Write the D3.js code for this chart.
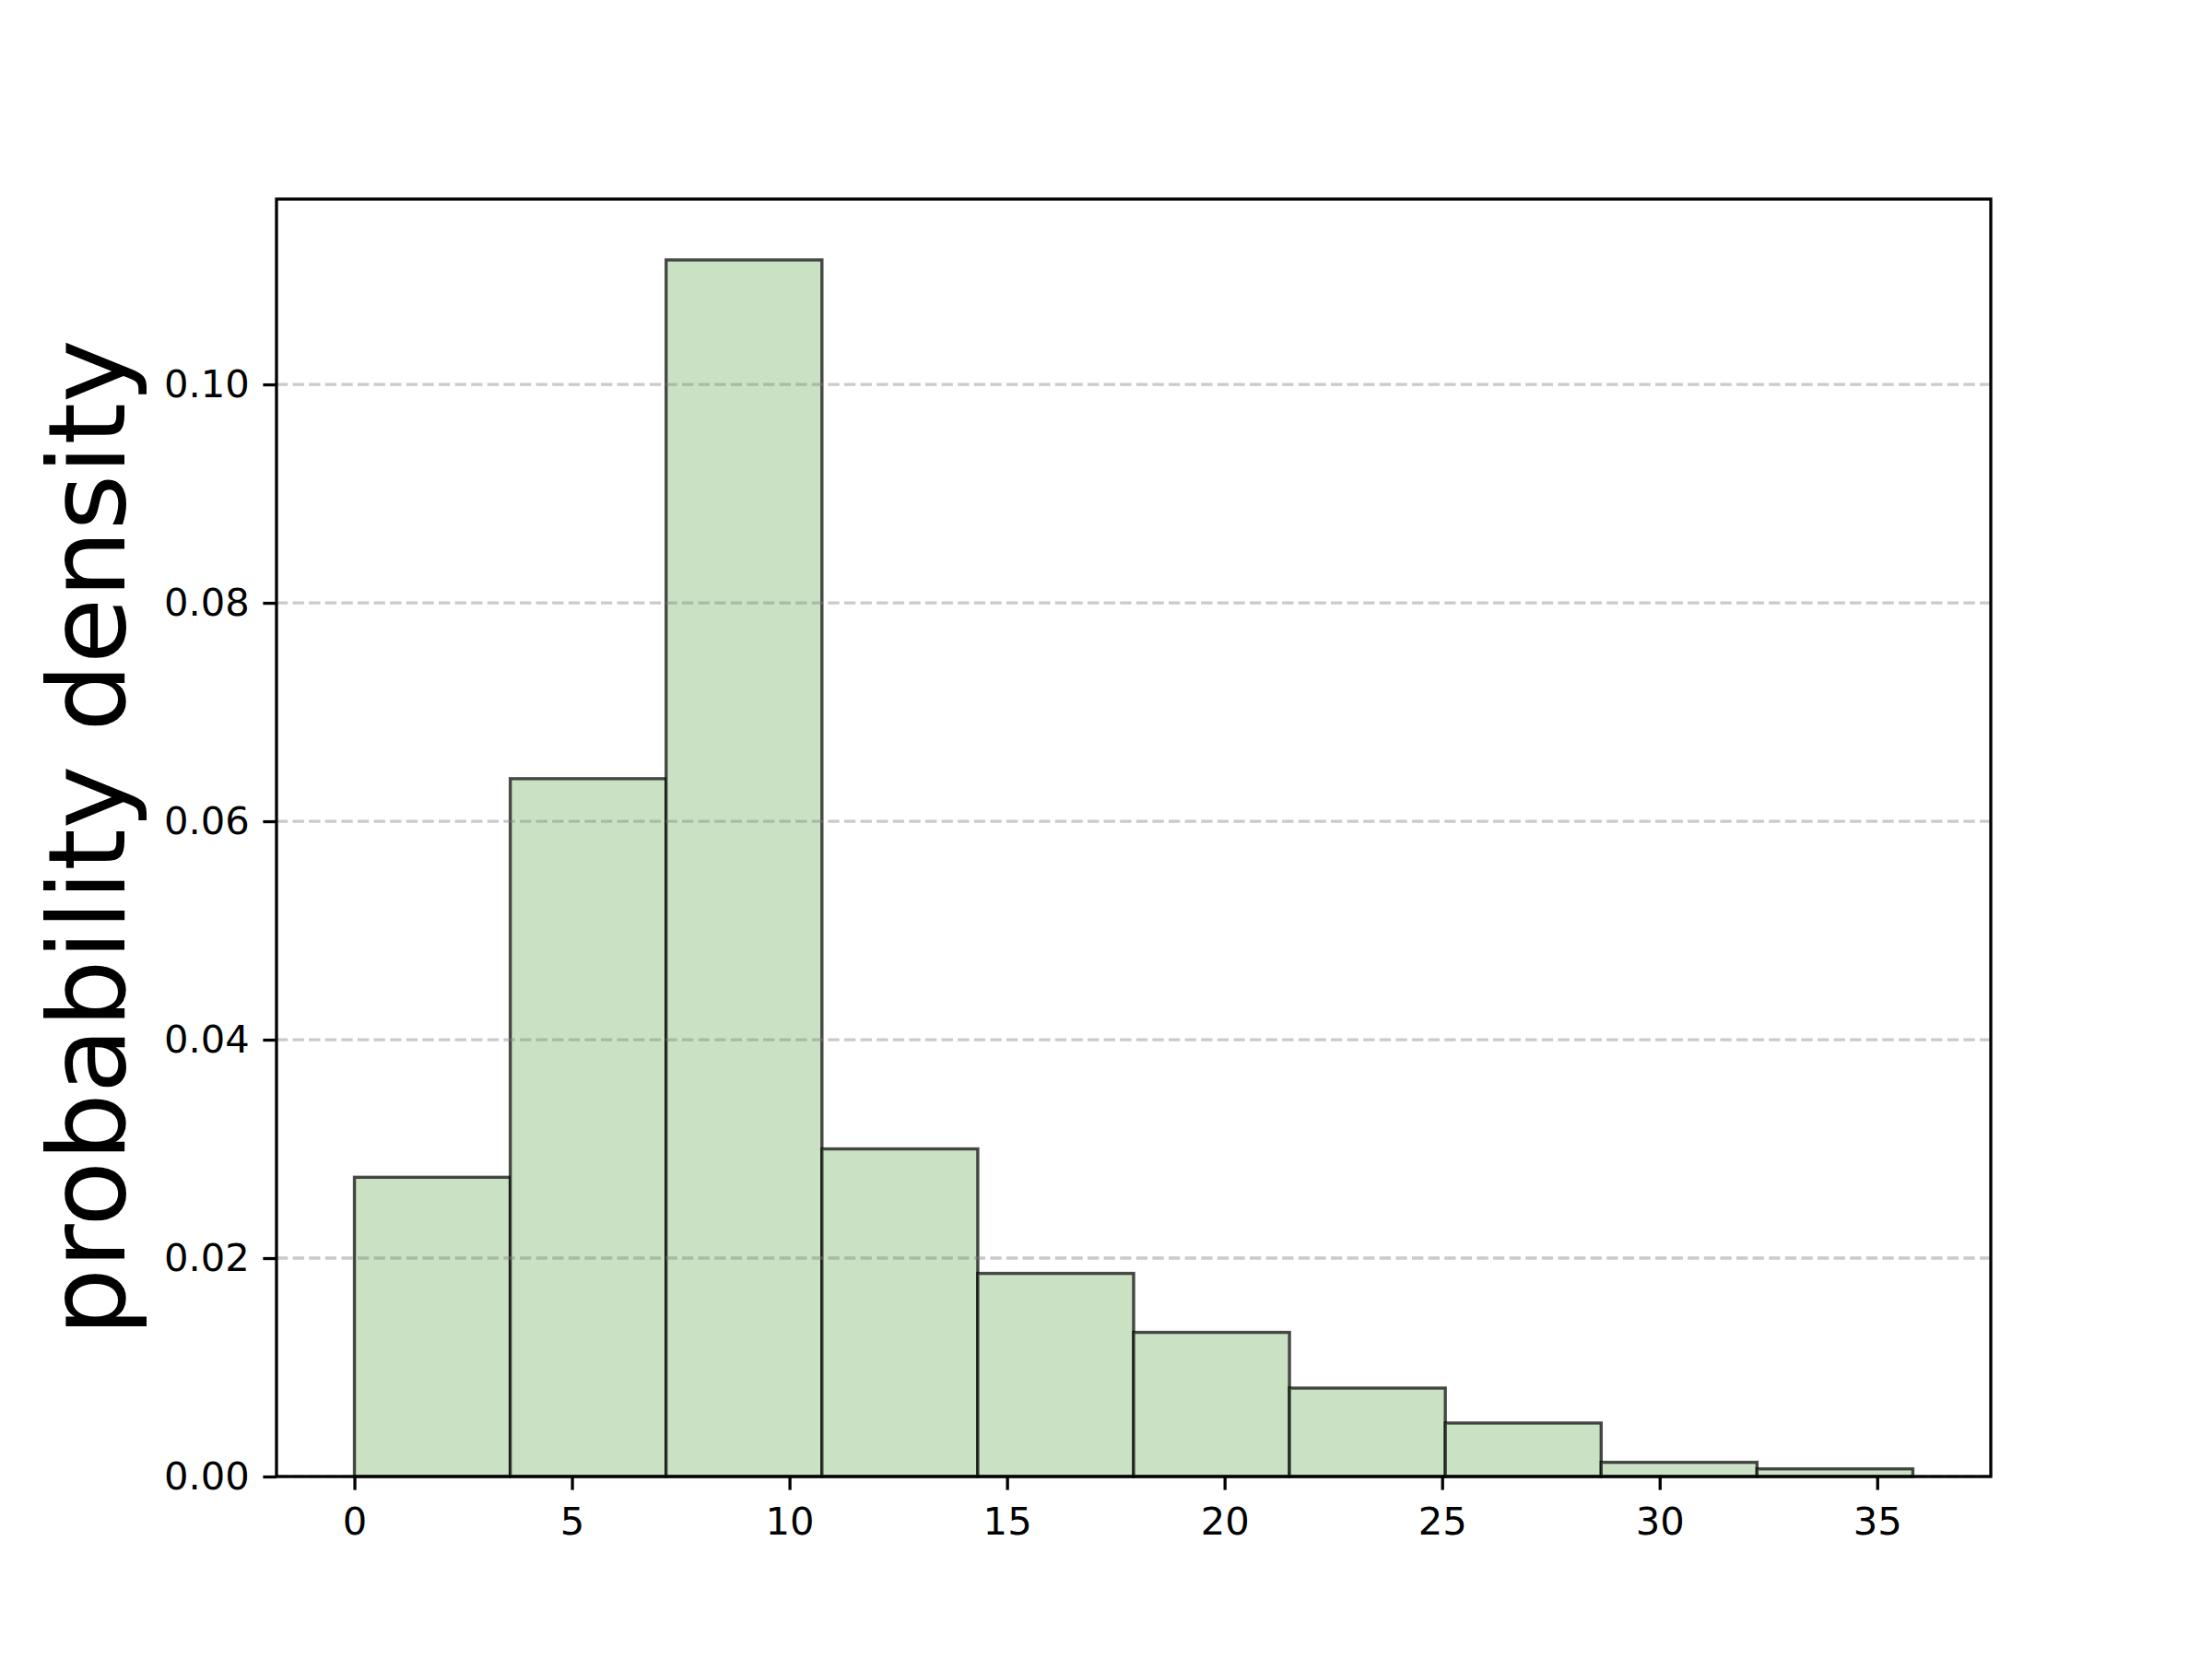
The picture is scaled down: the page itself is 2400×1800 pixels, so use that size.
<!DOCTYPE html>
<html>
<head>
<meta charset="utf-8">
<script src="https://cdn.jsdelivr.net/npm/d3@7"></script>
<style>
  body { margin: 0; background: #fff; }
  text { font-family: "DejaVu Sans", sans-serif; }
</style>
</head>
<body>
<script>
// histogram bins (edges) and density per bin
var binEdges = [0, 3.582, 7.164, 10.746, 14.328, 17.91, 21.492, 25.074, 28.656, 32.238, 35.82];
var densities = [0.0274, 0.0639, 0.1114, 0.0300, 0.0186, 0.0132, 0.0081, 0.0049, 0.0013, 0.0007];
var xTicks = [0, 5, 10, 15, 20, 25, 30, 35];
var yTicks = [0.00, 0.02, 0.04, 0.06, 0.08, 0.10];
var yLabel = "probability density";

var W = 2400, H = 1800;
var margin = {top: 216, right: 240, bottom: 198, left: 300};
var plotL = margin.left, plotR = W - margin.right,
    plotT = margin.top, plotB = H - margin.bottom;

var bins = densities.map(function(d, i) {
  return {x0: binEdges[i], x1: binEdges[i + 1], v: d};
});

// matplotlib style 5% padding
var xmin = binEdges[0], xmax = binEdges[binEdges.length - 1];
var pad = (xmax - xmin) * 0.05;
var x = d3.scaleLinear()
    .domain([xmin - pad, xmax + pad])
    .range([plotL, plotR]);
var y = d3.scaleLinear()
    .domain([0, d3.max(densities) * 1.05])
    .range([plotB, plotT]);

var svg = d3.select("body").append("svg")
    .attr("width", W)
    .attr("height", H);

svg.append("rect")
    .attr("width", W).attr("height", H)
    .attr("fill", "#fff");

// bars
svg.selectAll(".bar")
    .data(bins)
    .enter().append("rect")
    .attr("class", "bar")
    .attr("x", function(d) { return x(d.x0); })
    .attr("width", function(d) { return x(d.x1) - x(d.x0); })
    .attr("y", function(d) { return y(d.v); })
    .attr("height", function(d) { return y(0) - y(d.v); })
    .attr("fill", "#cae2c3")
    .attr("stroke", "#000")
    .attr("stroke-opacity", 0.7)
    .attr("stroke-width", 3.4);

// horizontal dashed grid (sits above bars)
svg.append("g")
    .selectAll("line")
    .data(yTicks)
    .enter().append("line")
    .attr("x1", plotL).attr("x2", plotR)
    .attr("y1", function(d) { return y(d); })
    .attr("y2", function(d) { return y(d); })
    .attr("stroke", "#808080")
    .attr("stroke-opacity", 0.42)
    .attr("stroke-width", 3.3)
    .attr("stroke-dasharray", "12.3,5.3");

// axes
var gx = svg.append("g")
    .attr("transform", "translate(0," + plotB + ")")
    .call(d3.axisBottom(x).tickValues(xTicks).tickSize(14.6).tickPadding(19).tickFormat(d3.format("d")));
var gy = svg.append("g")
    .attr("transform", "translate(" + plotL + ",0)")
    .call(d3.axisLeft(y).tickValues(yTicks).tickSize(14.6).tickPadding(14.6).tickFormat(d3.format(".2f")));

[gx, gy].forEach(function(g) {
  g.select(".domain").remove();
  g.selectAll(".tick line").attr("stroke", "#000").attr("stroke-width", 3.3);
  g.selectAll(".tick text")
    .attr("fill", "#000")
    .style("font-size", "41.7px")
    .style("font-family", "'DejaVu Sans', sans-serif");
});

// spines
svg.append("rect")
    .attr("x", plotL).attr("y", plotT)
    .attr("width", plotR - plotL).attr("height", plotB - plotT)
    .attr("fill", "none")
    .attr("stroke", "#000")
    .attr("stroke-width", 3.3);

// y label
svg.append("text")
    .attr("transform", "translate(135," + ((plotT + plotB) / 2) + ") rotate(-90)")
    .attr("text-anchor", "middle")
    .style("font-size", "116px")
    .attr("fill", "#000")
    .text(yLabel);
</script>
</body>
</html>
